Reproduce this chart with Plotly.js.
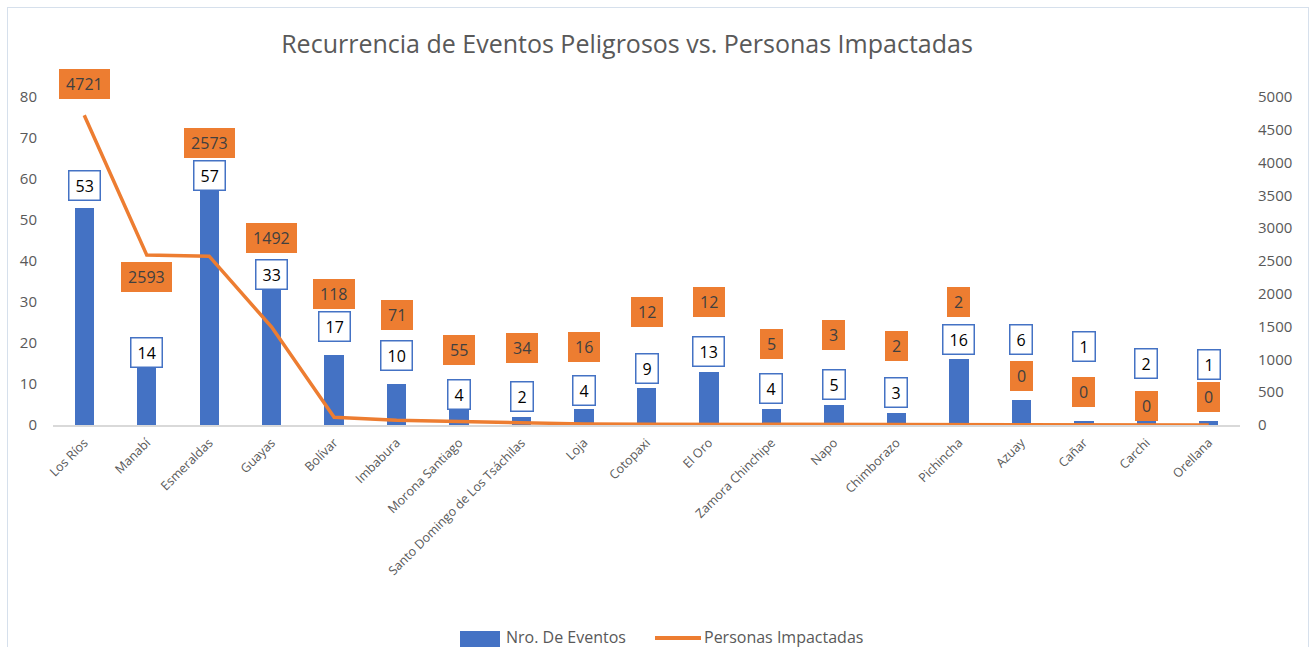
<!DOCTYPE html>
<html>
<head>
<meta charset="utf-8">
<script src="https://cdn.plot.ly/plotly-3.0.1.min.js"></script>
<style>
  html, body { margin: 0; padding: 0; background: #fff; overflow: hidden; }
  #chart { width: 1313px; height: 647px; position: absolute; left: 0; top: 0; }
  #frame { position: absolute; left: 7px; top: 7px; width: 1300px; height: 700px; border: 1px solid #D6E0EC; pointer-events: none; z-index: 5; }
</style>
</head>
<body>
<div id="chart"></div>
<div id="frame"></div>
<script>
// ---- data ----
const categories = ["Los Ríos", "Manabí", "Esmeraldas", "Guayas", "Bolívar", "Imbabura",
  "Morona Santiago", "Santo Domingo de Los Tsáchilas", "Loja", "Cotopaxi", "El Oro",
  "Zamora Chinchipe", "Napo", "Chimborazo", "Pichincha", "Azuay", "Cañar", "Carchi", "Orellana"];
const eventos = [53, 14, 57, 33, 17, 10, 4, 2, 4, 9, 13, 4, 5, 3, 16, 6, 1, 2, 1];
const personas = [4721, 2593, 2573, 1492, 118, 71, 55, 34, 16, 12, 12, 5, 3, 2, 2, 0, 0, 0, 0];
const seriesNames = ["Nro. De Eventos", "Personas Impactadas"];
const chartTitle = "Recurrencia de Eventos Peligrosos vs. Personas Impactadas";

// ---- label placement (pixel offsets above the data point, layout only) ----
const barLabelShift = [22, 15, 16, 15.5, 29, 29, 14, 20, 18.6, 20, 20, 20, 20.5, 20, 19.5, 61, 74, 53, 56];
const lineLabelShift = [31.6, -22, 113, 89, 123, 105, 71, 75, 77, 112.5, 122.5, 80.7, 90, 79, 123, 49, 33, 19, 28];

const blue = "#4472C4";
const orange = "#ED7D31";
const gray = "#595959";
const font = "Open Sans, sans-serif";

// plot area geometry (pixels)
const W = 1313, H = 647;
const M = { l: 53, r: 73, t: 97, b: 222 };
const pw = W - M.l - M.r, ph = H - M.t - M.b;
const px2x = px => (px - M.l) / pw;
const px2y = py => (H - M.b - py) / ph;

const traces = [
  {
    type: "bar", name: seriesNames[0], x: categories, y: eventos,
    marker: { color: blue }, width: 0.31, yaxis: "y", hoverinfo: "x+y"
  },
  {
    type: "scatter", mode: "lines", name: seriesNames[1], x: categories, y: personas,
    line: { color: orange, width: 3.5 }, yaxis: "y2", hoverinfo: "x+y"
  }
];

const digitW = 9.2;
const annotations = [];
categories.forEach((c, i) => {
  const t1 = String(eventos[i]);
  annotations.push({
    x: c, y: eventos[i], xref: "x", yref: "y", text: t1, showarrow: false,
    xanchor: "center", yanchor: "middle", yshift: barLabelShift[i],
    font: { family: font, size: 16, color: "#000000" },
    bgcolor: "#FFFFFF", bordercolor: blue, borderwidth: 1.5, borderpad: 3,
    width: digitW * t1.length + 6, height: 22
  });
  const t2 = String(personas[i]);
  annotations.push({
    x: c, y: personas[i], xref: "x", yref: "y2", text: t2, showarrow: false,
    xanchor: "center", yanchor: "middle", yshift: lineLabelShift[i],
    font: { family: font, size: 16, color: "#404040" },
    bgcolor: orange, bordercolor: orange, borderwidth: 1, borderpad: 3,
    width: digitW * t2.length + 6, height: 22
  });
});

// custom legend (wide swatch like the original)
const legY = 637;
annotations.push({
  xref: "paper", yref: "paper", x: px2x(504), y: px2y(legY), xanchor: "left", yanchor: "middle",
  text: seriesNames[0], showarrow: false, font: { family: font, size: 16, color: gray }
});
annotations.push({
  xref: "paper", yref: "paper", x: px2x(702), y: px2y(legY), xanchor: "left", yanchor: "middle",
  text: seriesNames[1], showarrow: false, font: { family: font, size: 16, color: gray }
});
const shapes = [
  { type: "rect", xref: "paper", yref: "paper", x0: px2x(460), x1: px2x(500), y0: px2y(legY - 6), y1: px2y(legY + 14),
    fillcolor: blue, line: { width: 0 } },
  { type: "line", xref: "paper", yref: "paper", x0: px2x(655), x1: px2x(701), y0: px2y(legY + 1), y1: px2y(legY + 1),
    line: { color: orange, width: 4 } }
];

const layout = {
  width: W, height: H,
  paper_bgcolor: "#FFFFFF", plot_bgcolor: "#FFFFFF",
  margin: M,
  font: { family: font, color: gray },
  title: {
    text: chartTitle, xref: "container", yref: "container",
    x: 627 / W, xanchor: "center", y: 1 - 44 / H, yanchor: "middle",
    font: { family: font, size: 25, color: gray }
  },
  xaxis: {
    type: "category", tickangle: -45, showgrid: false, zeroline: false,
    showline: true, linecolor: "#D9D9D9", linewidth: 1.5,
    tickfont: { family: font, size: 12.5, color: gray }, ticks: "", ticklabelstandoff: 4
  },
  yaxis: {
    range: [0, 80], dtick: 10, showgrid: false, zeroline: false, showline: false,
    tickfont: { family: font, size: 15, color: gray }, ticks: "", ticklabelstandoff: 15
  },
  yaxis2: {
    range: [0, 5000], dtick: 500, overlaying: "y", side: "right",
    showgrid: false, zeroline: false, showline: false,
    tickfont: { family: font, size: 15, color: gray }, ticks: "", ticklabelstandoff: 17
  },
  bargap: 0,
  showlegend: false,
  annotations: annotations,
  shapes: shapes
};

Plotly.newPlot("chart", traces, layout, { displayModeBar: false, staticPlot: true });
</script>
</body>
</html>
